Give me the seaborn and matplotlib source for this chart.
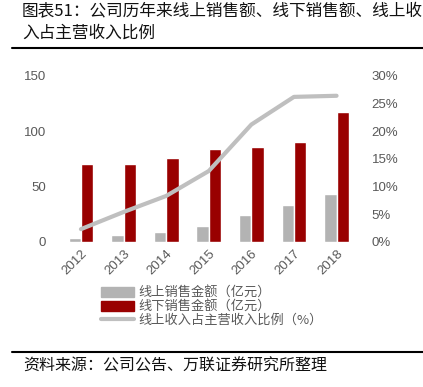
import numpy as np
import pandas as pd
import matplotlib
matplotlib.use("Agg")
import matplotlib.pyplot as plt
import seaborn as sns
from matplotlib.patches import Patch
from matplotlib.lines import Line2D

years = ["2012", "2013", "2014", "2015", "2016", "2017", "2018"]
online_sales = [3.9, 6.3, 9.0, 14.5, 24.7, 33.7, 43.4]
offline_sales = [70.8, 70.8, 76.2, 83.7, 85.8, 90.4, 116.9]
online_ratio = [2.3, 5.4, 8.3, 12.8, 21.2, 26.2, 26.4]
series_names = ["线上销售金额（亿元）", "线下销售金额（亿元）", "线上收入占主营收入比例（%）"]
left_ticks = [0, 50, 100, 150]
right_ticks = [0, 5, 10, 15, 20, 25, 30]

sns.set_theme(style="white")
plt.rcParams["font.family"] = ["Noto Sans CJK SC", "DejaVu Sans"]

GRAY = "#b3b3b3"
RED = "#990000"
LINE = "#bfbfbf"
TXT = "#595959"

df = pd.DataFrame({
    "year": years * 2,
    "value": online_sales + offline_sales,
    "series": [series_names[0]] * len(years) + [series_names[1]] * len(years),
})

fig = plt.figure(figsize=(4.23, 3.87), dpi=100)
ax = fig.add_axes([0.141, 0.375, 0.705, 0.429])

sns.barplot(data=df, x="year", y="value", hue="series", order=years,
            hue_order=series_names[:2], palette=[GRAY, RED], width=0.58,
            gap=0, saturation=1, ax=ax, legend=False)
ax.set_xlim(-0.5, len(years) - 0.5)
ax.set_ylim(0, 150)
ax.set_yticks(left_ticks)
ax.set_xlabel("")
ax.set_ylabel("")
for s in ax.spines.values():
    s.set_visible(False)
ax.tick_params(axis="both", length=0, colors=TXT, labelsize=9.5)
ax.tick_params(axis="y", pad=10)
for lab in ax.get_yticklabels():
    lab.set_family(["Liberation Sans", "DejaVu Sans"])
ax.set_xticks(range(len(years)))
ax.set_xticklabels(years, rotation=45, ha="right", rotation_mode="anchor",
                   family=["Liberation Sans", "DejaVu Sans"], color=TXT, fontsize=9.5)
ax.tick_params(axis="x", pad=4)

ax2 = ax.twinx()
sns.lineplot(x=np.arange(len(years)), y=online_ratio, color=LINE, lw=3,
             ax=ax2, legend=False)
ax2.set_ylim(0, 30)
ax2.set_yticks(right_ticks)
ax2.set_yticklabels([f"{t}%" for t in right_ticks], family=["Liberation Sans", "DejaVu Sans"])
ax2.tick_params(axis="y", length=0, colors=TXT, labelsize=9.5, pad=10)
for s in ax2.spines.values():
    s.set_visible(False)
ax2.grid(False)
ax.grid(False)

handles = [Patch(facecolor=GRAY, edgecolor=GRAY),
           Patch(facecolor=RED, edgecolor=RED),
           Line2D([0], [0], color=LINE, lw=3)]
fig.legend(handles, series_names, loc="upper left", bbox_to_anchor=(0.239, 0.259),
           frameon=False, fontsize=9.5, handlelength=2.5, handleheight=0.75,
           labelspacing=0.05, handletextpad=0.3, borderaxespad=0, borderpad=0,
           labelcolor=TXT)

fig.text(22 / 423, 1 - 11 / 387, "图表51：公司历年来线上销售额、线下销售额、线上收",
         fontsize=12, va="center", ha="left", color="#111111")
fig.text(22 / 423, 1 - 33 / 387, "入占主营收入比例", fontsize=12, va="center",
         ha="left", color="#111111")
fig.add_artist(Line2D([12 / 423, 1], [1 - 48 / 387] * 2, color="black", lw=1.5))
fig.add_artist(Line2D([12 / 423, 1], [1 - 352 / 387] * 2, color="black", lw=1.5))
fig.text(23 / 423, 1 - 366 / 387, "资料来源：公司公告、万联证券研究所整理",
         fontsize=11.5, va="center", ha="left", color="#111111")

fig.savefig("out.png", dpi=100)
